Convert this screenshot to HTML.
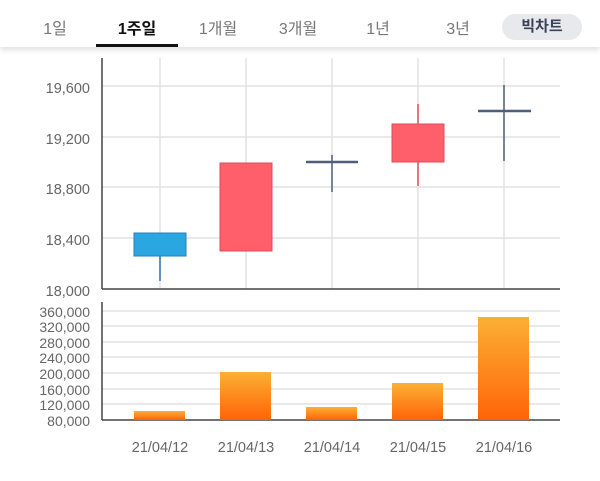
<!DOCTYPE html>
<html><head><meta charset="utf-8"><style>
body{margin:0;width:600px;height:481px;background:#fff;overflow:hidden;font-family:"Liberation Sans","Noto Sans CJK KR",sans-serif;}
.tabs{position:absolute;left:0;top:0;width:600px;height:47px;background:#fff;box-shadow:0 3px 5px rgba(0,0,0,0.12);}
.t{position:absolute;top:15px;font-size:16px;color:#777;transform:translateX(-50%);white-space:nowrap;}
.b{font-weight:bold;color:#111;}
.ul{position:absolute;left:96px;top:44px;width:82px;height:3px;background:#111;}
.pill{position:absolute;left:502px;top:14px;width:80px;height:26px;border-radius:13px;background:#e8e9ed;font-size:15px;font-weight:bold;color:#3a4356;text-align:center;line-height:26px;}
</style></head><body>
<div class="tabs">
<div class="t" style="left:55px">1일</div>
<div class="t b" style="left:137px">1주일</div>
<div class="t" style="left:218px">1개월</div>
<div class="t" style="left:298px">3개월</div>
<div class="t" style="left:378px">1년</div>
<div class="t" style="left:458px">3년</div>
<div class="ul"></div>
<div class="pill">빅차트</div>
</div>
<svg width="600" height="481" style="position:absolute;left:0;top:0" font-family="Liberation Sans, sans-serif">
<defs><linearGradient id="g" x1="0" y1="0" x2="0" y2="1"><stop offset="0" stop-color="#fbb034"/><stop offset="1" stop-color="#ff6408"/></linearGradient></defs>
<g stroke="#e2e2e2" stroke-width="1.5">
<line x1="160" y1="58" x2="160" y2="289"/><line x1="246" y1="58" x2="246" y2="289"/><line x1="332" y1="58" x2="332" y2="289"/><line x1="418" y1="58" x2="418" y2="289"/><line x1="504" y1="58" x2="504" y2="289"/>
<line x1="102" y1="86" x2="560" y2="86"/><line x1="102" y1="137" x2="560" y2="137"/><line x1="102" y1="187" x2="560" y2="187"/><line x1="102" y1="238" x2="560" y2="238"/>
<line x1="102" y1="311" x2="560" y2="311"/><line x1="102" y1="326" x2="560" y2="326"/><line x1="102" y1="342" x2="560" y2="342"/><line x1="102" y1="357" x2="560" y2="357"/><line x1="102" y1="373" x2="560" y2="373"/><line x1="102" y1="389" x2="560" y2="389"/><line x1="102" y1="404" x2="560" y2="404"/>
</g>
<g stroke="#444" stroke-width="1.5">
<line x1="102" y1="58" x2="102" y2="289"/><line x1="102" y1="289" x2="560" y2="289"/>
<line x1="102" y1="302" x2="102" y2="420"/><line x1="102" y1="420" x2="560" y2="420"/>
</g>
<g font-size="14.5" fill="#666" text-anchor="end">
<text x="90" y="93">19,600</text><text x="90" y="144">19,200</text><text x="90" y="194">18,800</text><text x="90" y="245">18,400</text><text x="90" y="296">18,000</text>
</g>
<g font-size="14" fill="#666" text-anchor="end">
<text x="90" y="317">360,000</text><text x="90" y="332">320,000</text><text x="90" y="348">280,000</text><text x="90" y="363">240,000</text><text x="90" y="379">200,000</text><text x="90" y="395">160,000</text><text x="90" y="410">120,000</text><text x="90" y="426">80,000</text>
</g>
<g font-size="14.5" fill="#666" text-anchor="middle">
<text x="160" y="452">21/04/12</text><text x="246" y="452">21/04/13</text><text x="332" y="452">21/04/14</text><text x="418" y="452">21/04/15</text><text x="504" y="452">21/04/16</text>
</g>
<line x1="160" y1="256" x2="160" y2="281" stroke="#2a6fa8" stroke-width="1.5"/>
<rect x="134" y="233" width="52" height="23" fill="#2aa7e0" stroke="#2a7fb8"/>
<rect x="220" y="163" width="52" height="88" fill="#ff5f6a" stroke="#d94c58"/>
<line x1="332" y1="155" x2="332" y2="192" stroke="#4f5f7a" stroke-width="1.5"/>
<line x1="306" y1="162" x2="358" y2="162" stroke="#4f5f7a" stroke-width="2.5"/>
<line x1="418" y1="104" x2="418" y2="186" stroke="#e0505c" stroke-width="1.5"/>
<rect x="392" y="124" width="52" height="38" fill="#ff5f6a" stroke="#d94c58"/>
<line x1="504" y1="85" x2="504" y2="161" stroke="#4f5f7a" stroke-width="1.5"/>
<line x1="478" y1="111" x2="531" y2="111" stroke="#4f5f7a" stroke-width="2.5"/>
<rect x="134" y="411" width="51" height="9" fill="url(#g)"/>
<rect x="220" y="372" width="51" height="48" fill="url(#g)"/>
<rect x="306" y="407" width="51" height="13" fill="url(#g)"/>
<rect x="392" y="383" width="51" height="37" fill="url(#g)"/>
<rect x="478" y="317" width="51" height="103" fill="url(#g)"/>
</svg>
</body></html>
